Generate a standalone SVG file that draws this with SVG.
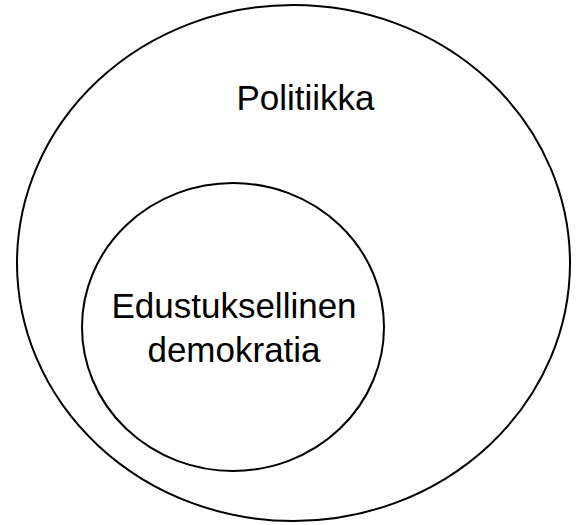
<svg xmlns="http://www.w3.org/2000/svg" width="577" height="525" viewBox="0 0 577 525">
<style>
.c{fill:none;stroke:#000;stroke-width:2}
.t{font-family:"Liberation Sans",Arial,sans-serif;font-size:35px;fill:#000;text-anchor:middle}
</style>
<rect width="577" height="525" fill="#fff"/>
<g id="politiikka">
<ellipse class="c" cx="293.5" cy="263" rx="276.5" ry="258"/>
<text class="t" x="305.5" y="110">Politiikka</text>
</g>
<g id="edustuksellinen">
<ellipse class="c" cx="233" cy="327" rx="151" ry="144"/>
<text class="t" x="234" y="318">Edustuksellinen</text>
<text class="t" x="234" y="362">demokratia</text>
</g>
<g id="connectors"/>
</svg>
